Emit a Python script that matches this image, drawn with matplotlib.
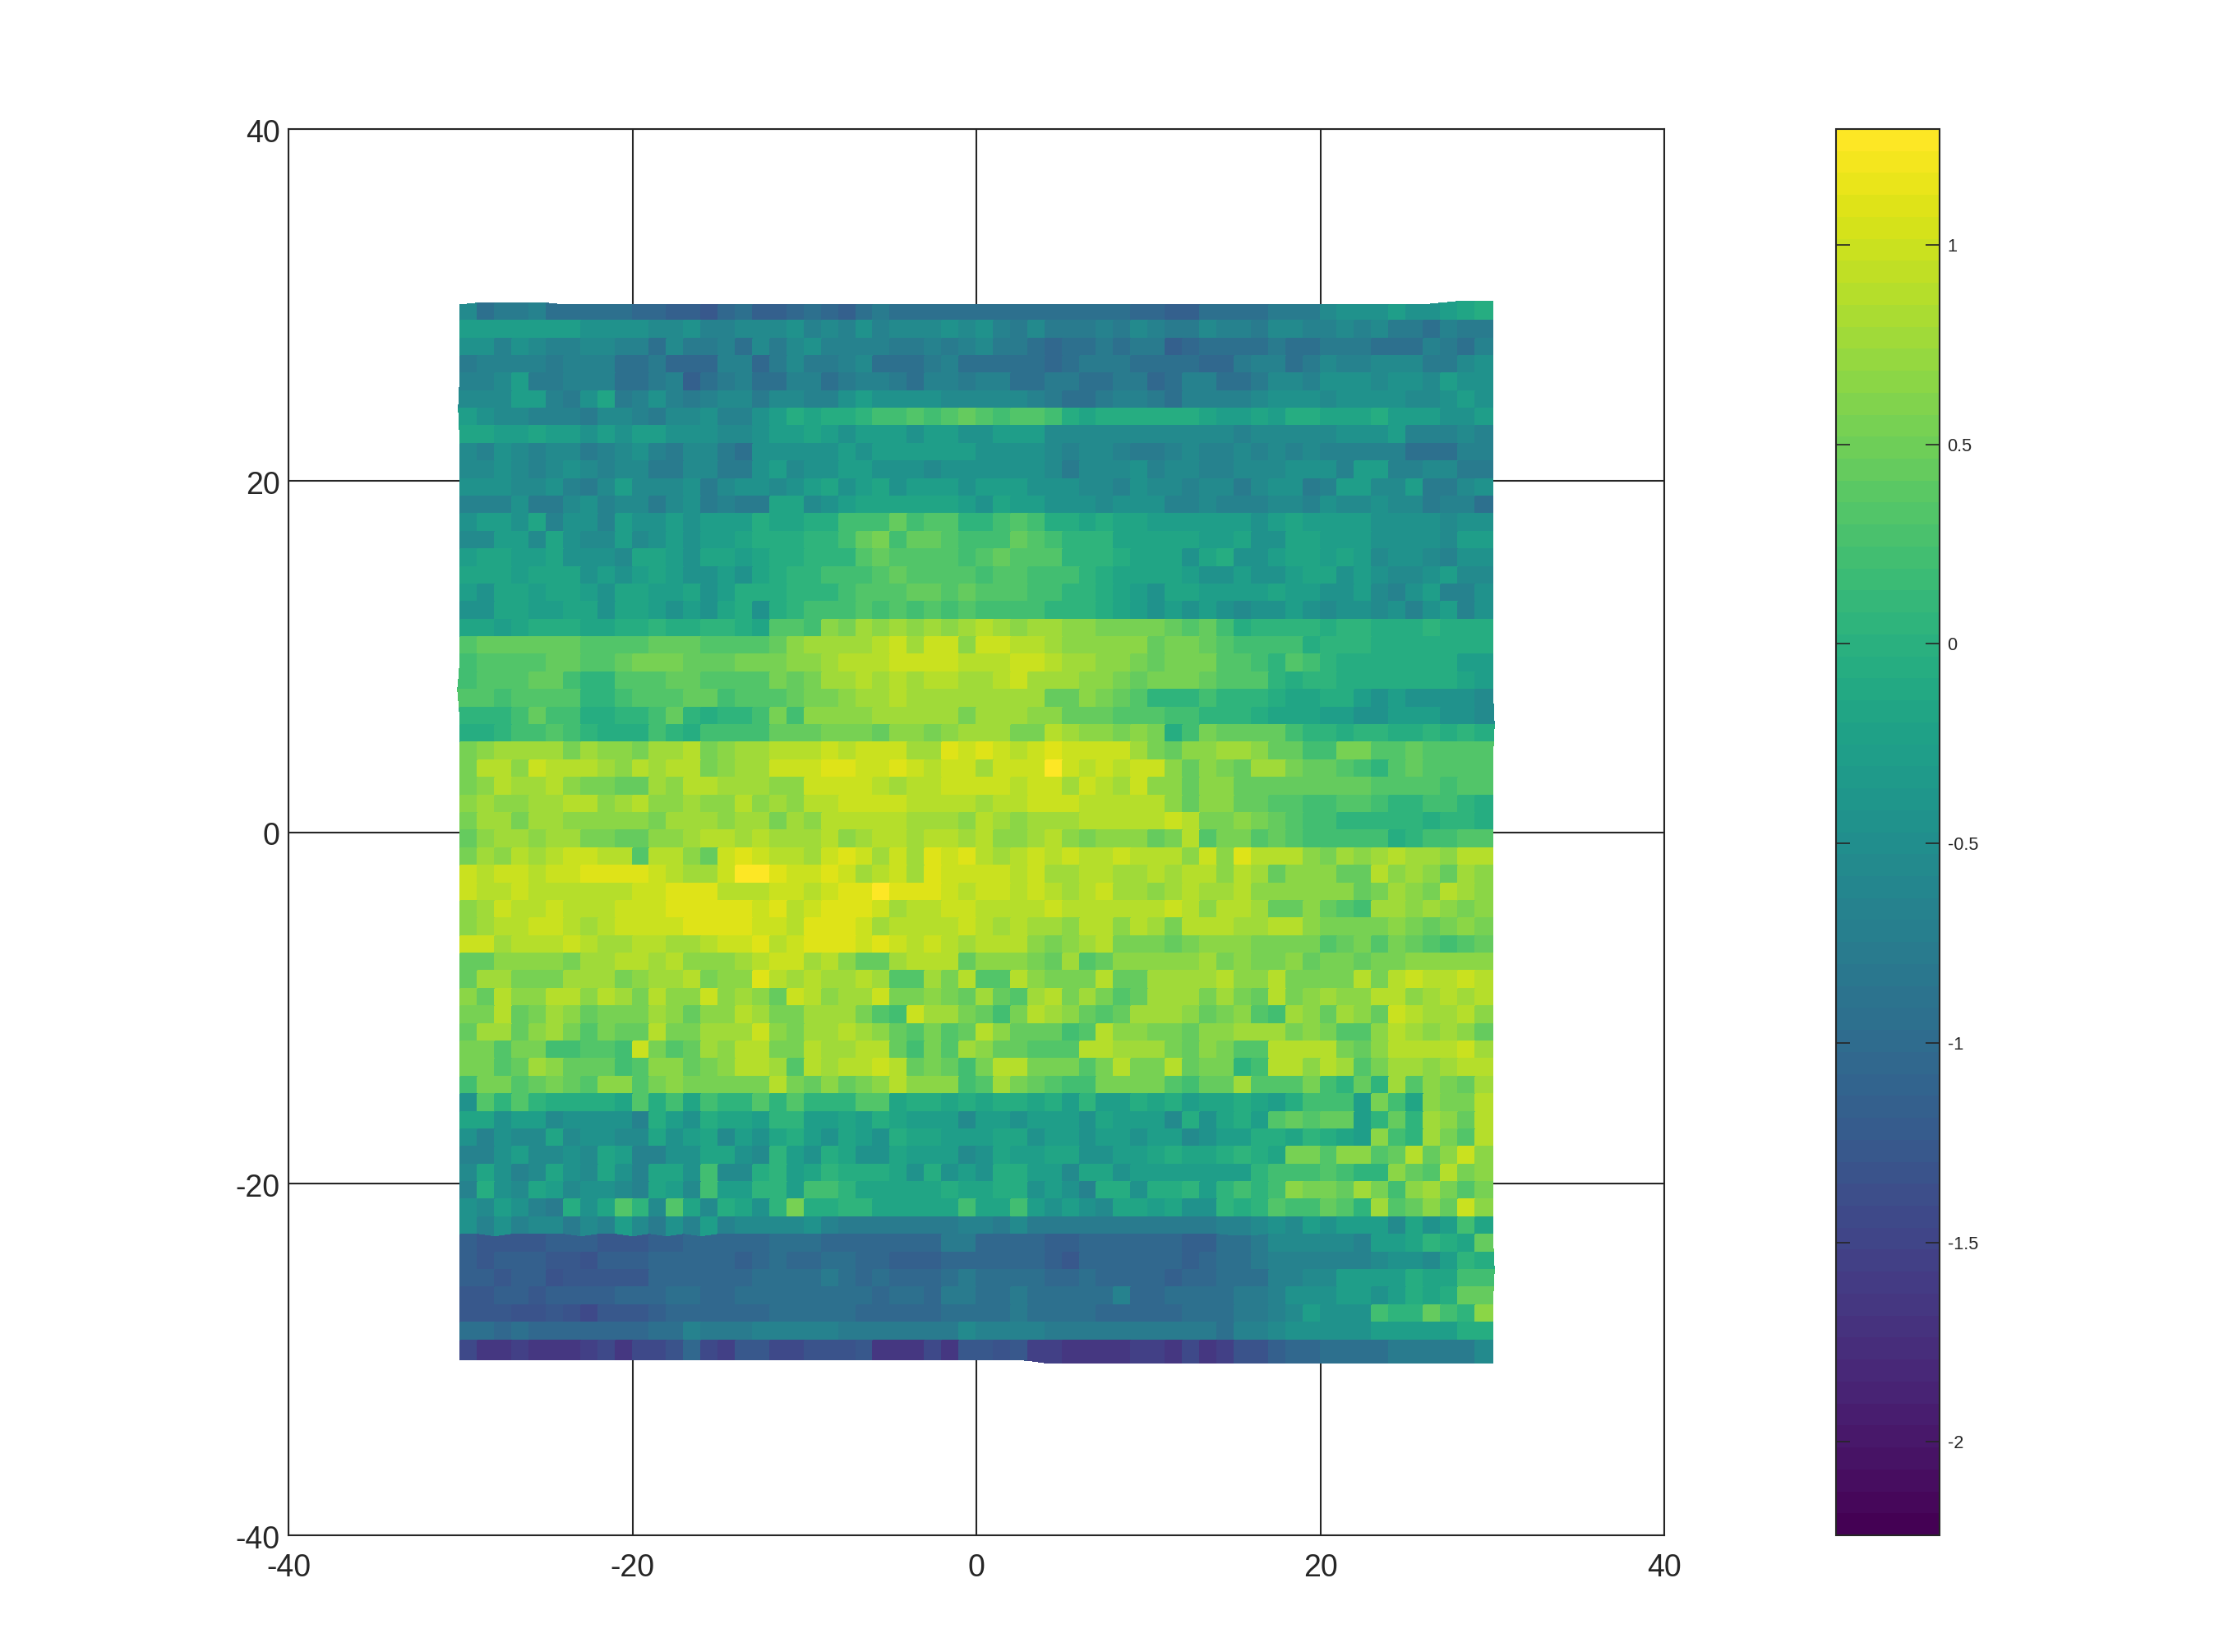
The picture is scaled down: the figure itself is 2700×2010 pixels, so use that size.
import numpy as np
import matplotlib
matplotlib.use("Agg")
import matplotlib.pyplot as plt

plt.rcParams["font.family"] = ["Liberation Sans", "DejaVu Sans"]

# each letter is one cell
LEVEL_CODES = "ABCDEFGHIJKLMNOPQRSTUVWXYZ"
LEVEL_VALUES = [-1.65, -1.55, -1.45, -1.35, -1.25, -1.14, -1.03, -0.92, -0.8, -0.675,
                -0.55, -0.425, -0.3, -0.175, -0.05, 0.075, 0.2, 0.32, 0.43, 0.55,
                0.66, 0.78, 0.88, 1.0, 1.1, 1.25]

# top row first, 60 cells per row
ROWS = [
    "KHIIJHHHHHGGFFEGHFFGHGFHIHHHHH" "HHHHHHHHHGGFFHHHHIIIKLLLMLLMNO",
    "MMMMMMMLLLLKKLJJKKKLJKJLJKKKLK" "LJIKIIIJIKJIIKJJIKKJJKJKIIHJII",
    "LLJLKJJKKJJHKIIJHKIKLJJJJIIJIJ" "KIIHGHHIHIIFGHHHHIHHIIIHHHJIHJ",
    "IJJJJIJJJHHIGGGJJGIKIIJKHHHIJH" "HHHHGHIIIHHHHGGIJJHIKJJKKKIIKL",
    "JJKMIIJJJHHIJFHIJHHJJHIJJIHJJI" "JJHHIIHHIIGHJJHHIKKJLLLKLLKMLL",
    "KKKMMJILNIJLJIJKKIKKJJLMLLLLKK" "KKKJIHHIJJIHJJJJKLLLKLLLLKKLML",
    "MLKKJJJIKKJIKKLJJLMONOOPQQRQRS" "RQRRQONOOOOOONMMNMOONNNOMMMLLM",
    "NNMMNMMLMLMMLLLKKLMMNMLMMMLMML" "LMMMKKKKKKKKKKKJKKKKKLLLMJJJKJ",
    "KJLKJKKIJKLJIKKIHLLLLLMLMMMMMM" "LLLLKJKKJIIJKJJKJKJKJJJJJHHHJJ",
    "KKLKJKLKJKKIIKKIILMKLLMMLLLKLL" "LLLLKIKKKLJKKJJKKKLLLJMMJJKKII",
    "LLLKKLJIKMKKKLIKLLKLMNLMNLMMML" "MMMLLLKKJLKKJKKIKLLIJMMKKMIIKL",
    "JJJLIIKLJKKIKLIJIINNKLMNNNNNNM" "LNMMLLLKLLLJJKJJJKKJLKKLKKIJJH",
    "LMMLNJLLJMLLMLMMMONNOOQQQSQRRP" "PQRQOONONNMMMMMMLMNMMMMLLLLKLL",
    "KKMMKNLKKMKLMLMMNOOOPPQSTQSSRQ" "QQSRQPPPNNNNNMMNLLNNMMMLLLLKMM",
    "MNNMMNLLLKNNMLNNMNOOPPPRSRRRRQ" "RSRRRPPPONNNLNOLLMNNMNMKLLKJLL",
    "NNNMNNNLMLMNMLLMLNOPPQQQRSRRRR" "QRRQQQPONNNNMLLMLLMNNLMLKKLMKK",
    "MLNNMNNMLNNMMNLMOOOPPPQRRRSSRS" "RRRQQPPONMLNNMMMMNMMLLMKJLMJJL",
    "LLNNMMNNLNNMLMLNOLOPQQQRQRQRQR" "QQQQPPPONMLMLMLKLLMLKLLKLJLMJL",
    "NNMNOOONNOOPOOPPONRRQUTVUVUVUV" "WVUVVUUTTTTSRSQOPPPPOPPOOOPOOO",
    "RSSSSSSRRRRSSSRRRRSUVVVVWXVXXU" "XXWWVUUUUUSTTSRQQQQOPPPOOOOOOO",
    "QRRRRSSRRSTTTSSSTTTUUVWWWXXXXW" "WWXXWVVUUTSTTTRRQPRQPOOOOOOOMM",
    "QRRRSSQPPRRRSSRRRRTSTVVWVWVWWV" "VWXVVVUUTSTTTSRRRPOPPOOOOOOONM",
    "RRQRRRRPPQRRRSSQRRRSTTUVVWVVVV" "VVVVSSUTSRPPPQPPPONNOOMLMLLLLK",
    "PPPQSQQOOPPQSPOPPQTQUUUUVVVVVT" "VVVUUSSSRRRQQPPPONNNMMLLMMMLLK",
    "OOPQQRQPOOOQPOQQQQSSSTTTSUUTUV" "VVTTWVUUTUTOQTSSSSQPPOPPOOPOPO",
    "TUVVVVTVUUTVVWTUVVWWWXWXXXVVYX" "YXWXYXXXXVTSUUVVUSSQQTTRRSRRRR",
    "TWWUXWWWVUWVWWTUVVXXXYYXXYXWXX" "VXXXZXWXWXXUSUTSVVTSSRQPRSRRRR",
    "TUWVVWUTTSSVUWWVVVUUXXXXWVWWXX" "XXWXXVXWVXUUSUUSSSSSSSSRRRRQRR",
    "UVUUVVWWUVWUUVUUWUVUWWXXXXWWWW" "VWWXXXWWWWWUSUUSSRRQQRRQPPQQPO",
    "TVVTVVUUUUUTVVVUVVTVUWWWWWVVVU" "WVUVVVWWWWWXWTTUTSRQQPPPPPOPPO",
    "SUVVUVVTTSSUUVWWVWVVVWUVWWVWWV" "WUUVWUTUUUSTWRTTRSRQQQQQOPQQRR",
    "TVUWVWXXWWRWWUSXYXWWVXYXVXVYXY" "WVWXWXWWXWWWUXUYWWWUTVUVWVVUWW",
    "XWXXWXXYYYYXWVVXZZYXXYXVWXVYXX" "XXWXVVWWVVWVWWUWVSUUUSSWUVUSVU",
    "XWWXWWWWWWXXYYYWWWXXWXYYZYYYXW" "XXWXWVWXVVUVWVVWUUUUUUSTVUTWVU",
    "UVXWWXWWWXXXYYYYYXYWXYYYXVWWXX" "WWWWXWWWWWWXWUWWVSSUSRQVVUVUTU",
    "UVWWXXWVWXXXXYYYYXXWYYYXVWWWWX" "WVWVVUWWUWVTWWWVVWWUTTTTUTSTUT",
    "XXVWWWXWVVWWVVWXXYWXYYYXYXWXWV" "WWWUTUVWTTTSTUUUTTTTRSTRTSRQRS",
    "SSUUUUTVVWWVWUUUVWXXVWUSSVWWWS" "UUUTSVRSUUUUUVTUTTUSTTSTTUUUUU",
    "SVVTTTVVVTUVVWTUUYWVWVVWVRRVTW" "RRWUTTTWSSVVVVWUUWTTTTWTWXWWXW",
    "USWUUWWUWVTWUUXUVUSXWUVVXTTUTS" "VSRVWTVTRSVVVTVTSWTUVUUWWUVWVW",
    "TTWSTVUSTTTVUSUUWVTTVVVTRQXVVT" "SQTWVUSRSVVVUSTURQVUSVUSXWVVWU",
    "SVVSUVTRTSSWTTVVVXUTVVWVUSRTRS" "WUSSSQRWUUTTSUUVVVTUTRRUWVUVUS",
    "TTRTTQQRRQXTRSVUWWTTWVVWWSQTRV" "USSRRRWWVVVTSUTRRWWWWTSUWWWWXV",
    "TTRSVUSSSQRUUSTUWWVRWVWWXWSTSQ" "TWWTTTRTWTTWSTTPQWWUWVRTVVUVWW",
    "QTTRSTSRUURTUTTTTTWTSUSTUWUUUQ" "RVTSRQQTTTTRQSSVRRRTQPSPVRUTSV",
    "LRPRPOOOONROQNQPPRPRPPPRRNOONO" "NOONOMPMMONOMNNONMOQQQMTQNUTTW",
    "NNLMMKLLLLJOMLONNMPPMMNMONMMMK" "MMLMMMLNMMMKOLNOMRSRSSMPSPVUSW",
    "LJLKKNKLLKKNLMNKMLNOMLNMLONNMM" "MNNLMMLMMLMMKLMMOONPONMUQPVTRW",
    "JJLMKKLKNMJJLLNNLKPMLONLLNMMMK" "LNMMNNLLMMNONNOPONTTRUURSWSUXU",
    "KNLJKNLKNLJNNLQKKOPMNPOOONLOLM" "LOOMMKNNLMMMMMMMPQQQRQPPUSRWTU",
    "JOLKNMKLLKJNMKQMMPPMQQPNNNNNON" "NOOLMLJOOLOOPMPQPQUTTSVTQUVTRT",
    "LKMLJIOLNRPKRNKONLPTOOPPNNNNNQ" "NNQMLMLKNNMNLLPOPRQQSRPVRSUSXU",
    "LJLJKKIKJMKILJMJKKKKLJIIIIIIIJ" "JIKIIIIIIIIIIIJJKLKMLMMMKNLMQN",
    "FEEEEFFFEEEFFGGGGGHHHGGGGGGGII" "GGGGFFGGGGGGFFHHIKKKKKJMMNPONS",
    "FEFFFEEDFFFGGGGGFGHGGHHGGFFFGG" "GGGGFEGGGGGGFGHHIJJJJJJKLLKMPO",
    "FFEFFDEEEEEGGGGGGHHHHIHGHGGGHI" "HHHHGGHGGGGFGGHHHJJKKMMMMONNQQ",
    "EEFFEFFFFGGGHHGGHHHHHHHHGHHGII" "HHIHHHHHJGGHHHHIIJLLLMMLMONOSS",
    "EEEDDEDCEEEFGGGGGGHHHHHGGGGGHH" "HHIHHHHGGGGGHHHIIJKMLLLQPPSQPU",
    "HHGHGGGGGGGHHJIIIJJJJJIIIIIIIK" "JJJJIIIIIIIIIIHJJKLLLLLMMMMMOO",
    "CAABAAABCACCDGCBEECCDDDEAAACAE" "EDEBBAAAABBACABDDFGGHHHHIIIIIK",
]

# small offsets of the warped mesh outline, read at each vertex
TOP_DY = [0.0, 0.1, 0.1, 0.1, 0.1, 0.1, 0.0] + [0.0] * 50 + [0.1, 0.2, 0.2, 0.2]
BOTTOM_DY = [0.0] * 33 + [-0.05, -0.2] + [-0.2] * 26
LEFT_DX = [0.0] * 5 + [-0.05, -0.12, -0.05] + [0.0] * 13 + [-0.05, -0.15, -0.05] + [0.0] * 37
RIGHT_DX = [0.0] * 23 + [0.05, 0.1, 0.05] + [0.0] * 28 + [0.05, 0.1, 0.05] + [0.0] * 4
SEAM_53_DY = [0, 0, -0.15, 0, 0, 0, 0, -0.15, 0, 0, -0.15, 0, -0.15, 0, -0.15] + [0] * 30 + [-0.1, -0.1] + [0] * 14

AXIS_TICKS = [-40, -20, 0, 20, 40]
CBAR_TICKS = [-2, -1.5, -1, -0.5, 0, 0.5, 1]
CBAR_LABELS = ["-2", "-1.5", "-1", "-0.5", "0", "0.5", "1"]
CLIM = (-2.234, 1.29)

INK = "#262626"

lookup = dict(zip(LEVEL_CODES, LEVEL_VALUES))
z = np.array([[lookup[c] for c in row] for row in ROWS])

# mesh vertices, top row of the surface is thinner than the others
x_edges = np.arange(-30.0, 31.0)
y_edges = np.r_[30, 29.1 - np.arange(59), -30]
X, Y = np.meshgrid(x_edges, y_edges)
Y[0, :] += TOP_DY
Y[-1, :] += BOTTOM_DY
Y[53, :] += SEAM_53_DY
X[:, 0] += LEFT_DX
X[:, -1] += RIGHT_DX

fig = plt.figure(figsize=(9, 6.7), dpi=300)
ax = fig.add_axes([351 / 2700, 1 - 1868 / 2010, 1674 / 2700, 1711 / 2010])
cax = fig.add_axes([2234 / 2700, 1 - 1868 / 2010, 126 / 2700, 1711 / 2010])

cmap = plt.get_cmap("viridis", 64)
mesh = ax.pcolormesh(X, Y, z, cmap=cmap, vmin=CLIM[0], vmax=CLIM[1],
                     edgecolors="face", linewidth=0.1, zorder=3)

ax.set_xlim(-40, 40)
ax.set_ylim(-40, 40)
ax.set_xticks(AXIS_TICKS, [str(t) for t in AXIS_TICKS])
ax.set_yticks(AXIS_TICKS, [str(t) for t in AXIS_TICKS])
ax.grid(True, color=INK, linewidth=0.5)
ax.set_axisbelow(True)
ax.tick_params(length=0, labelsize=9, labelcolor=INK)
ax.tick_params(axis="x", pad=5.2)
ax.tick_params(axis="y", pad=2.5)
for tick in ax.get_yticklabels():
    tick.set_verticalalignment("center")
    tick.set_y(0)
    tick.set_position((0, tick.get_position()[1]))
    tick.set_transform(tick.get_transform() + matplotlib.transforms.ScaledTranslation(0, -1.4 / 72, fig.dpi_scale_trans))
for spine in ax.spines.values():
    spine.set_color(INK)
    spine.set_linewidth(0.5)

cbar = fig.colorbar(mesh, cax=cax)
cbar.set_ticks(CBAR_TICKS, labels=CBAR_LABELS)
cax.tick_params(axis="y", direction="in", left=True, right=True, length=4,
                width=0.4, color=INK, labelsize=5.2, labelcolor=INK, pad=2.3)
cbar.outline.set_edgecolor(INK)
cbar.outline.set_linewidth(0.5)

fig.savefig("out.png", dpi=300)
plt.close(fig)
